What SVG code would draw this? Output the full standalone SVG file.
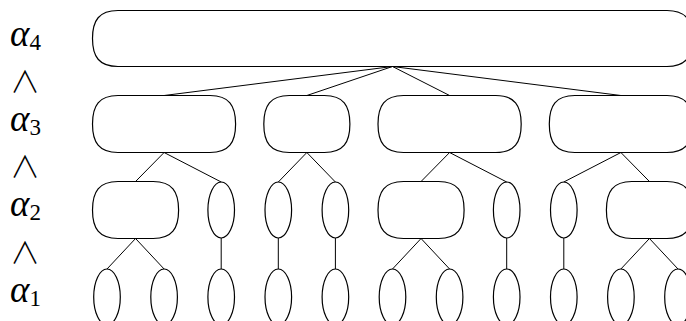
<svg xmlns="http://www.w3.org/2000/svg" width="686" height="321" viewBox="0 0 686 321">
<style>
.n{fill:none;stroke:#000;stroke-width:1.2}
.c line{stroke:#000;stroke-width:1}
.a{font-family:"Liberation Serif",serif;font-style:italic;font-size:37px;fill:#000}
.s{font-style:normal;font-size:23px}
.w{font-family:"Noto Sans CJK JP","DejaVu Sans",sans-serif;font-weight:300;font-size:30px;fill:#000}
</style>
<rect width="686" height="321" fill="#fff"/>
<g id="labels">
<text class="a" x="10" y="46">α<tspan class="s" dy="4">4</tspan></text>
<text class="a" x="10" y="131">α<tspan class="s" dy="4">3</tspan></text>
<text class="a" x="10" y="216">α<tspan class="s" dy="4">2</tspan></text>
<text class="a" x="10" y="302">α<tspan class="s" dy="4">1</tspan></text>
<text class="w" x="10" y="92">∧</text>
<text class="w" x="10" y="177">∧</text>
<text class="w" x="10" y="263">∧</text>
</g>
<g class="c" id="connectors">
<line x1="392.5" y1="66.5" x2="164.1" y2="95.5"/>
<line x1="392.5" y1="66.5" x2="306.85" y2="95.5"/>
<line x1="392.5" y1="66.5" x2="449.6" y2="95.5"/>
<line x1="392.5" y1="66.5" x2="620.9" y2="95.5"/>
<line x1="164.1" y1="152.5" x2="135.55" y2="181.5"/>
<line x1="164.1" y1="152.5" x2="221.2" y2="182"/>
<line x1="306.85" y1="152.5" x2="278.3" y2="182"/>
<line x1="306.85" y1="152.5" x2="335.4" y2="182"/>
<line x1="449.6" y1="152.5" x2="421.05" y2="181.5"/>
<line x1="449.6" y1="152.5" x2="506.7" y2="182"/>
<line x1="620.9" y1="152.5" x2="563.8" y2="182"/>
<line x1="620.9" y1="152.5" x2="649.45" y2="181.5"/>
<line x1="135.55" y1="238.5" x2="107" y2="269"/>
<line x1="135.55" y1="238.5" x2="164.1" y2="269"/>
<line x1="221.2" y1="238" x2="221.2" y2="269"/>
<line x1="278.3" y1="238" x2="278.3" y2="269"/>
<line x1="335.4" y1="238" x2="335.4" y2="269"/>
<line x1="421.05" y1="238.5" x2="392.5" y2="269"/>
<line x1="421.05" y1="238.5" x2="449.6" y2="269"/>
<line x1="506.7" y1="238" x2="506.7" y2="269"/>
<line x1="563.8" y1="238" x2="563.8" y2="269"/>
<line x1="649.45" y1="238.5" x2="620.9" y2="269"/>
<line x1="649.45" y1="238.5" x2="678" y2="269"/>
</g>
<g id="top"><path class="n" d="M118,10.5 H667 C686,10.5 692.5,20.5 692.5,38.5 C692.5,56.5 686,66.5 667,66.5 H118 C99,66.5 92.5,56.5 92.5,38.5 C92.5,20.5 99,10.5 118,10.5 Z"/></g>
<g id="b3a"><path class="n" d="M118,95.5 H210 C229,95.5 235.6,105.5 235.6,124 C235.6,142.5 229,152.5 210,152.5 H118 C99,152.5 92.5,142.5 92.5,124 C92.5,105.5 99,95.5 118,95.5 Z"/></g>
<g id="b3b"><path class="n" d="M289.3,95.5 H324.4 C343.4,95.5 349.9,105.5 349.9,124 C349.9,142.5 343.4,152.5 324.4,152.5 H289.3 C270.3,152.5 263.8,142.5 263.8,124 C263.8,105.5 270.3,95.5 289.3,95.5 Z"/></g>
<g id="b3c"><path class="n" d="M403.5,95.5 H495.7 C514.7,95.5 521.2,105.5 521.2,124 C521.2,142.5 514.7,152.5 495.7,152.5 H403.5 C384.5,152.5 378,142.5 378,124 C378,105.5 384.5,95.5 403.5,95.5 Z"/></g>
<g id="b3d"><path class="n" d="M574.8,95.5 H667 C686,95.5 692.5,105.5 692.5,124 C692.5,142.5 686,152.5 667,152.5 H574.8 C555.8,152.5 549.3,142.5 549.3,124 C549.3,105.5 555.8,95.5 574.8,95.5 Z"/></g>
<g id="b2a"><path class="n" d="M118,181.5 H153.1 C172.1,181.5 178.6,191.5 178.6,210 C178.6,228.5 172.1,238.5 153.1,238.5 H118 C99,238.5 92.5,228.5 92.5,210 C92.5,191.5 99,181.5 118,181.5 Z"/></g>
<g id="e2a"><ellipse class="n" cx="221.2" cy="210" rx="13.3" ry="28"/></g>
<g id="e2b"><ellipse class="n" cx="278.3" cy="210" rx="13.3" ry="28"/></g>
<g id="e2c"><ellipse class="n" cx="335.4" cy="210" rx="13.3" ry="28"/></g>
<g id="b2b"><path class="n" d="M403.5,181.5 H438.6 C457.6,181.5 464.1,191.5 464.1,210 C464.1,228.5 457.6,238.5 438.6,238.5 H403.5 C384.5,238.5 378,228.5 378,210 C378,191.5 384.5,181.5 403.5,181.5 Z"/></g>
<g id="e2d"><ellipse class="n" cx="506.7" cy="210" rx="13.3" ry="28"/></g>
<g id="e2e"><ellipse class="n" cx="563.8" cy="210" rx="13.3" ry="28"/></g>
<g id="b2c"><path class="n" d="M631.9,181.5 H667 C686,181.5 692.5,191.5 692.5,210 C692.5,228.5 686,238.5 667,238.5 H631.9 C612.9,238.5 606.4,228.5 606.4,210 C606.4,191.5 612.9,181.5 631.9,181.5 Z"/></g>
<g id="e1a"><ellipse class="n" cx="107" cy="297" rx="13.3" ry="28"/></g>
<g id="e1b"><ellipse class="n" cx="164.1" cy="297" rx="13.3" ry="28"/></g>
<g id="e1c"><ellipse class="n" cx="221.2" cy="297" rx="13.3" ry="28"/></g>
<g id="e1d"><ellipse class="n" cx="278.3" cy="297" rx="13.3" ry="28"/></g>
<g id="e1e"><ellipse class="n" cx="335.4" cy="297" rx="13.3" ry="28"/></g>
<g id="e1f"><ellipse class="n" cx="392.5" cy="297" rx="13.3" ry="28"/></g>
<g id="e1g"><ellipse class="n" cx="449.6" cy="297" rx="13.3" ry="28"/></g>
<g id="e1h"><ellipse class="n" cx="506.7" cy="297" rx="13.3" ry="28"/></g>
<g id="e1i"><ellipse class="n" cx="563.8" cy="297" rx="13.3" ry="28"/></g>
<g id="e1j"><ellipse class="n" cx="620.9" cy="297" rx="13.3" ry="28"/></g>
<g id="e1k"><ellipse class="n" cx="678" cy="297" rx="13.3" ry="28"/></g>
</svg>
